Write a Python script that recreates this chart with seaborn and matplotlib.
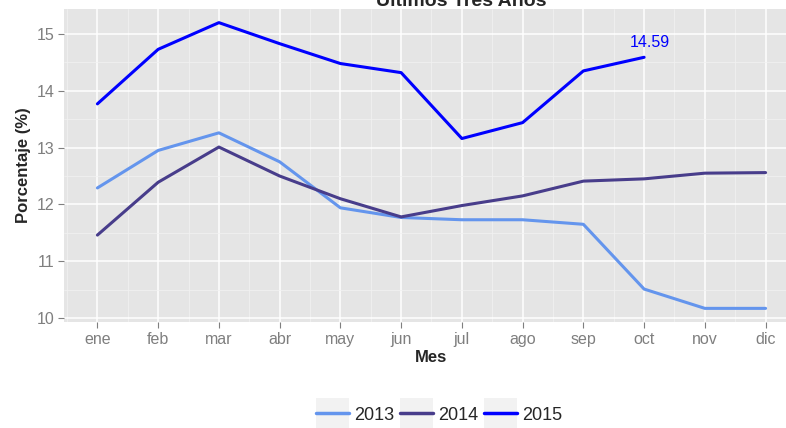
import numpy as np
import pandas as pd
import matplotlib
matplotlib.use("Agg")
import matplotlib.pyplot as plt
from matplotlib.legend_handler import HandlerLine2D
from matplotlib.patches import Rectangle
import seaborn as sns

# Data
meses = ["ene", "feb", "mar", "abr", "may", "jun", "jul", "ago", "sep", "oct", "nov", "dic"]
anio_2013 = [12.29, 12.95, 13.26, 12.75, 11.94, 11.77, 11.73, 11.73, 11.65, 10.51, 10.17, 10.17]
anio_2014 = [11.46, 12.39, 13.01, 12.50, 12.10, 11.78, 11.98, 12.15, 12.41, 12.45, 12.55, 12.56]
anio_2015 = [13.77, 14.73, 15.20, 14.83, 14.48, 14.32, 13.16, 13.44, 14.35, 14.59]
anios = ["2013", "2014", "2015"]
colores = ["#6495ED", "#483D8B", "#0000FF"]

rows = []
for anio, vals in zip(anios, [anio_2013, anio_2014, anio_2015]):
    for m, v in zip(meses, vals):
        rows.append({"Mes": m, "Porcentaje": v, "Año": anio})
df = pd.DataFrame(rows)

sns.set_theme(style="darkgrid", rc={
    "axes.facecolor": "#E5E5E5",
    "grid.color": "white",
    "axes.edgecolor": "#E5E5E5",
})
plt.rcParams["font.family"] = ["Liberation Sans", "DejaVu Sans"]

fig = plt.figure(figsize=(7.86, 4.28), dpi=100)
# panel runs past the right edge, as in the reference
ax = fig.add_axes([64 / 786, 1 - 322 / 428, (799 - 64) / 786, (322 - 9) / 428])

sns.lineplot(data=df, x="Mes", y="Porcentaje", hue="Año", hue_order=anios,
             palette=colores, linewidth=2.2, ax=ax, legend=False, sort=False)

ax.set_yticks([10, 11, 12, 13, 14, 15])
ax.set_xticks(range(len(meses)))
ax.set_xticklabels(meses)
ax.set_xticks(np.arange(-0.5, 12, 1), minor=True)
ax.set_yticks(np.arange(9.5, 16, 1), minor=True)
ax.set_xlim(-0.55, 11.55)
ax.set_ylim(9.93, 15.44)
ax.grid(which="major", color="white", linewidth=1.1)
ax.grid(which="minor", color="#F2F2F2", linewidth=0.5)
ax.tick_params(axis="both", which="major", length=4, width=0.8, color="#7F7F7F",
               labelcolor="#7F7F7F", labelsize=11.5, bottom=True, left=True, pad=3)
ax.tick_params(axis="both", which="minor", length=0)
for s in ax.spines.values():
    s.set_visible(False)

ax.set_xlabel("Mes", fontsize=12, fontweight="bold", labelpad=2)
ax.set_ylabel("Porcentaje (%)", fontsize=12, fontweight="bold", labelpad=4)

# last value label for 2015
ax.annotate(f"{anio_2015[-1]:.2f}", xy=(9, anio_2015[-1]), xytext=(4, 5),
            textcoords="offset points", color="#0000FF", fontsize=11.5,
            ha="center", va="bottom")

fig.text(461 / 786, 1 - 2 / 428, "Últimos Tres Años", fontsize=14, fontweight="bold",
         ha="center", va="center")


# legend keys with light grey background, ggplot style
class KeyHandler(HandlerLine2D):
    def create_artists(self, legend, orig_handle, xdescent, ydescent, width, height,
                       fontsize, trans):
        arts = super().create_artists(legend, orig_handle, xdescent, ydescent, width,
                                      height, fontsize, trans)
        box_h = 21.6
        cy = height / 2 - ydescent
        bg = Rectangle((-xdescent, cy - box_h / 2), width, box_h, facecolor="#F2F2F2",
                       edgecolor="none", transform=trans, zorder=0)
        return [bg] + list(arts)


handles = [plt.Line2D([], [], color=c, linewidth=2.5) for c in colores]
leg = fig.legend(handles, anios, loc="center", bbox_to_anchor=(439 / 786, 1 - 415 / 428),
                 ncol=3, frameon=False, fontsize=13, handlelength=1.83,
                 columnspacing=0.33, handletextpad=0.28,
                 handler_map={plt.Line2D: KeyHandler()})

fig.savefig("out.png", dpi=100)
